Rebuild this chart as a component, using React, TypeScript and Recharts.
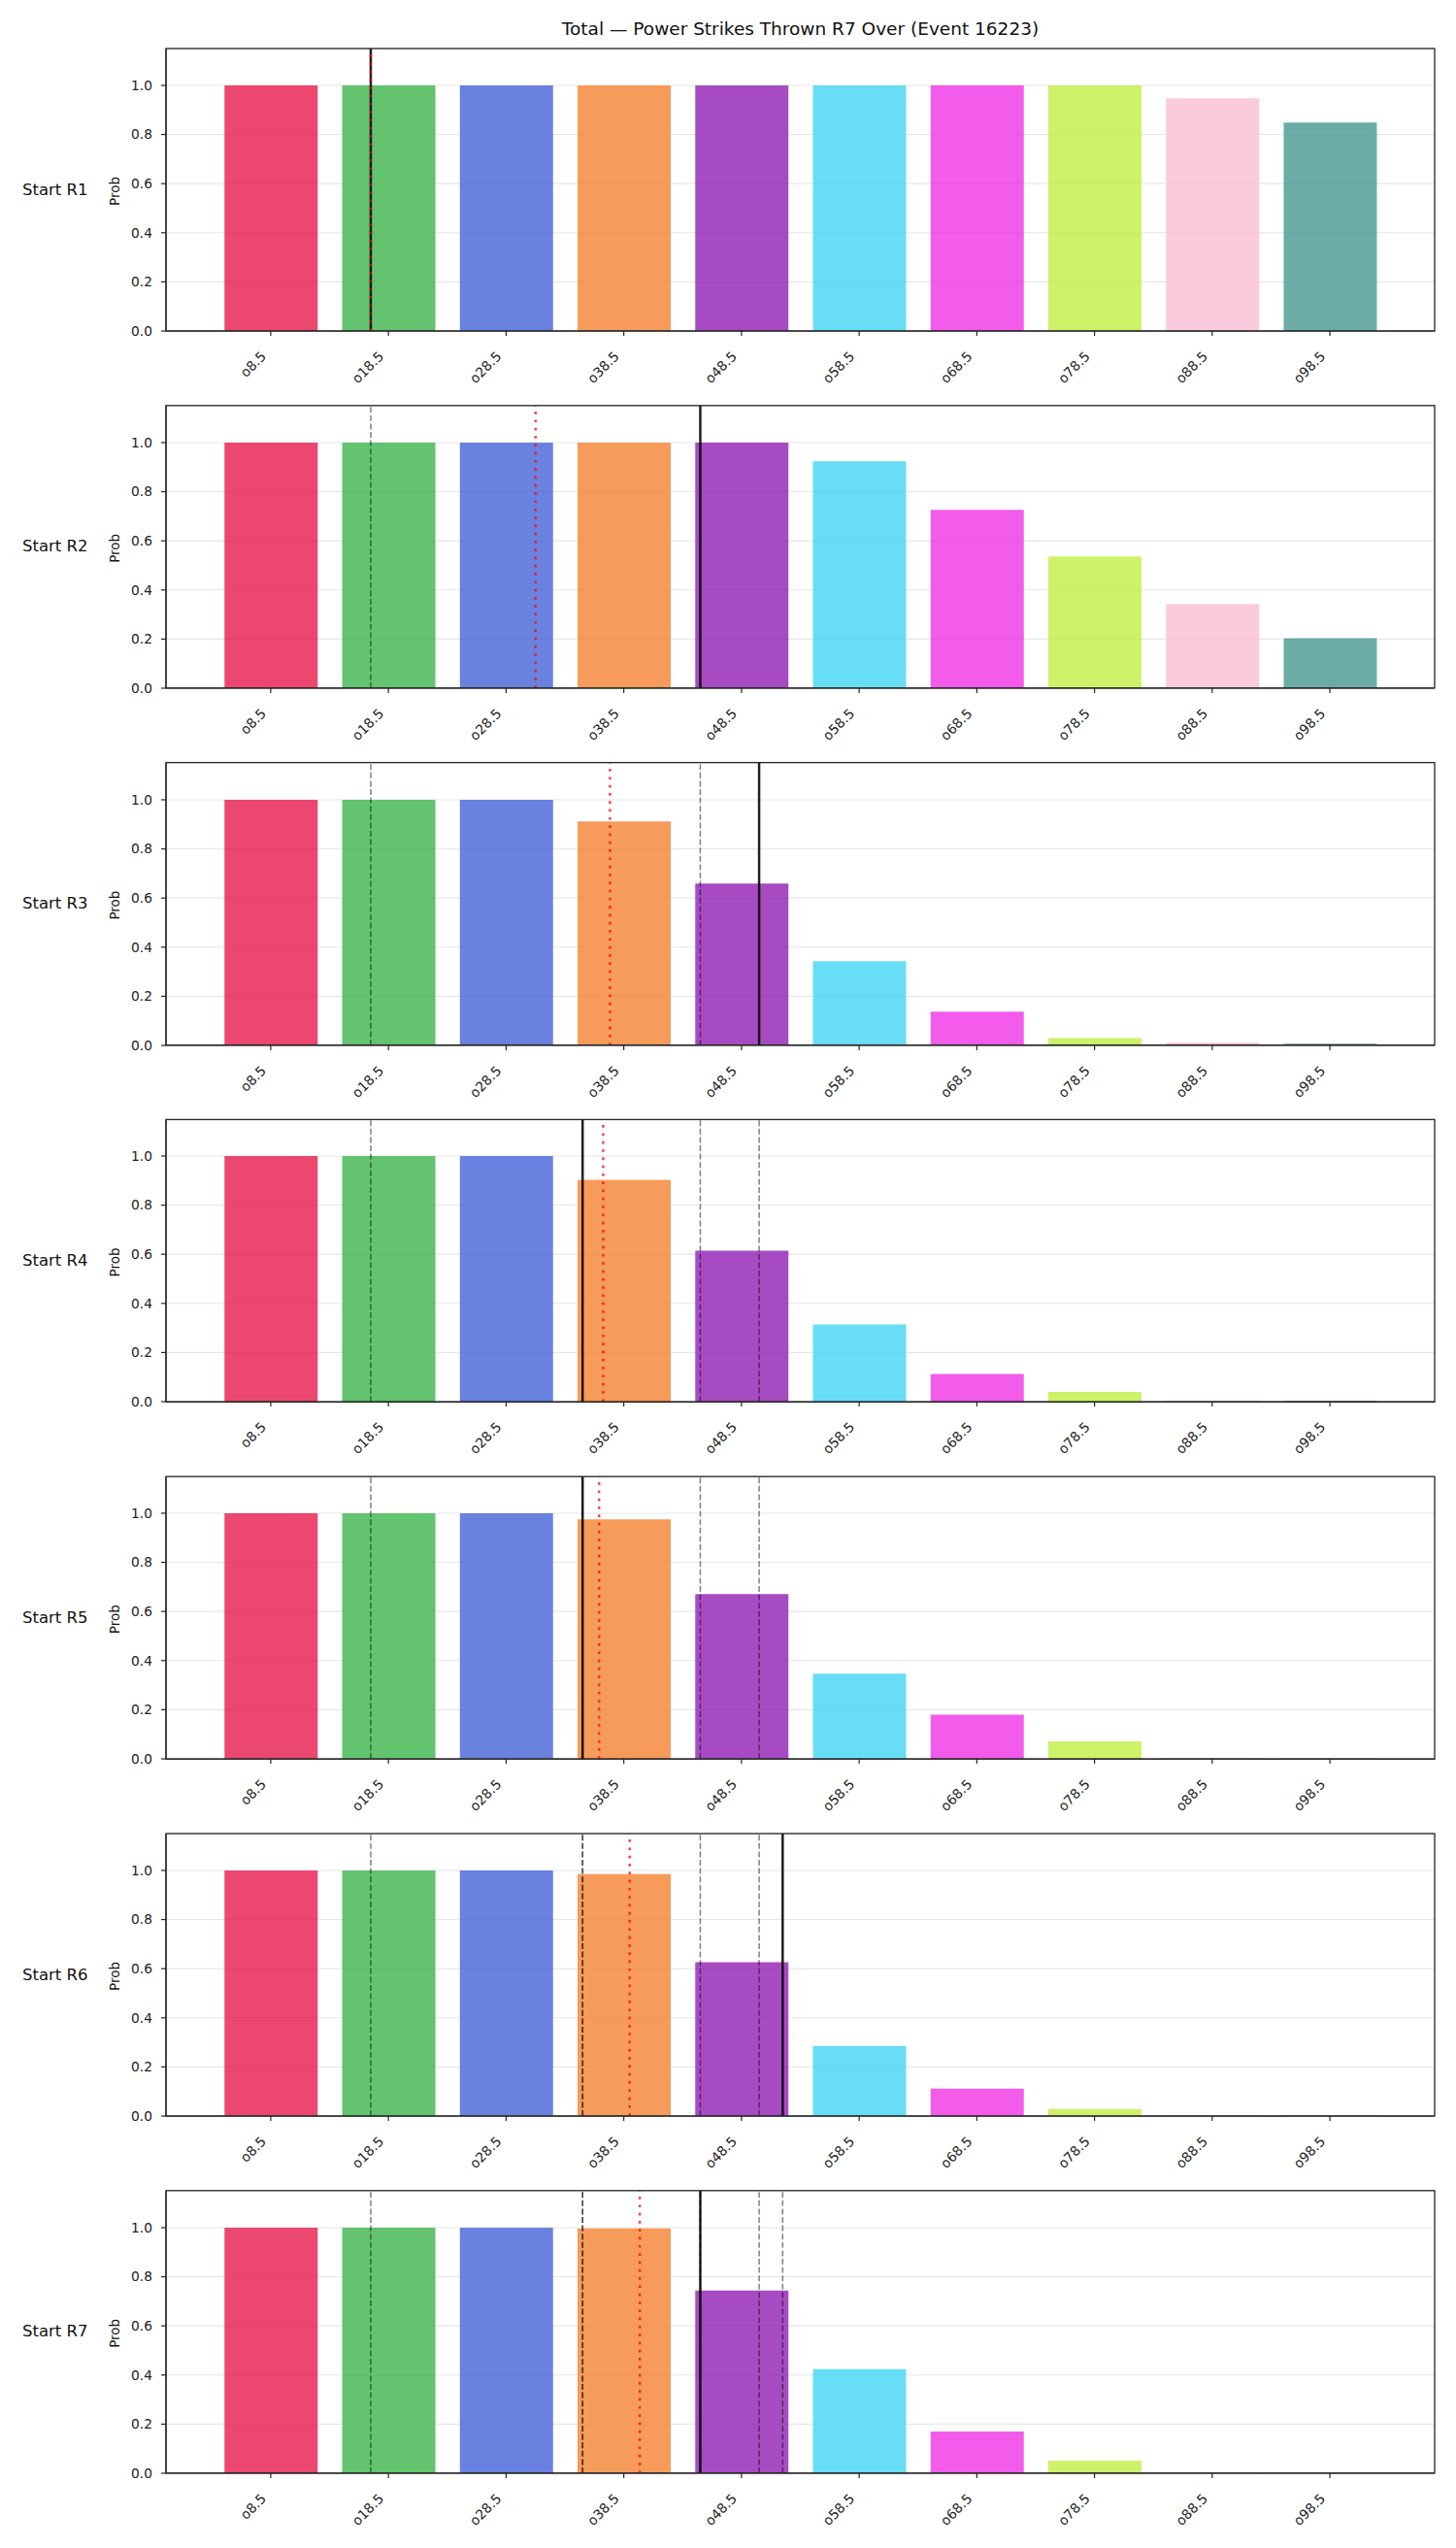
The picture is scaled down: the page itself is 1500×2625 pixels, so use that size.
import React from 'react';
import { BarChart, Bar, Cell, XAxis, YAxis, CartesianGrid, ReferenceLine } from 'recharts';

// Over lines on the x axis and one colour per line
const lines = [8.5, 18.5, 28.5, 38.5, 48.5, 58.5, 68.5, 78.5, 88.5, 98.5];
const barColors = [
  '#e6194b', '#3cb44b', '#4363d8', '#f58231', '#911eb4',
  '#42d4f4', '#f032e6', '#bfef45', '#fabed4', '#469990',
];

// P(over) for each line, given the start round
const probR1 = [1, 1, 1, 1, 1, 1, 1, 1, 0.947, 0.849];
const probR2 = [1, 1, 1, 1, 1, 0.924, 0.726, 0.536, 0.343, 0.204];
const probR3 = [1, 1, 1, 0.912, 0.659, 0.343, 0.137, 0.03, 0.012, 0.007];
const probR4 = [1, 1, 1, 0.903, 0.615, 0.314, 0.113, 0.04, 0.005, 0.004];
const probR5 = [1, 1, 1, 0.975, 0.671, 0.347, 0.18, 0.071, 0.003, 0.001];
const probR6 = [1, 1, 1, 0.985, 0.626, 0.286, 0.112, 0.029, 0.002, 0.001];
const probR7 = [1, 1, 1, 0.997, 0.744, 0.424, 0.17, 0.051, 0.005, 0.001];
const probsByRound = [probR1, probR2, probR3, probR4, probR5, probR6, probR7];

const rounds = ['R1', 'R2', 'R3', 'R4', 'R5', 'R6', 'R7'];
// strikes thrown in each round, and the running average up to it
const thrownByRound = [17, 45, 50, 35, 35, 52, 45];
const avgByRound = [17, 31, 37.33, 36.75, 36.4, 39, 39.86];

const yTicks = [0, 0.2, 0.4, 0.6, 0.8, 1.0];

const TITLE = 'Total \u2014 Power Strikes Thrown R7 Over (Event 16223)';

// layout
const W = 1500;
const H = 2625;
const PLOT_L = 171;
const PLOT_R = 1478;
const PLOT_H = 291;
const TOP0 = 50;
const STEP = 367.8;
const PAD_TOP = 20;
const AXIS_H = 60;
const FONT = '"DejaVu Sans", sans-serif';
const SPINE = '#262626';
const TICK_FONT = 13.8;

function XTick(props: any) {
  const { x, y, payload } = props;
  const ax = x - 4;
  const ay = y + 22;
  return (
    <text
      x={ax}
      y={ay}
      textAnchor="end"
      fontSize={TICK_FONT}
      fill="#222"
      fontFamily={FONT}
      transform={`rotate(-45, ${ax}, ${ay})`}
    >
      {`o${payload.value}`}
    </text>
  );
}

function RoundPanel({ index }: { index: number }) {
  const probs = probsByRound[index];
  const data = lines.map((line, i) => ({ line, prob: probs[i] }));
  const top = TOP0 + STEP * index;
  const prior = thrownByRound.slice(0, index);
  return (
    <div style={{ position: 'absolute', left: 0, top: top - PAD_TOP }}>
      <BarChart
        width={W}
        height={PAD_TOP + PLOT_H + AXIS_H}
        data={data}
        margin={{ top: PAD_TOP, right: W - PLOT_R, bottom: 0, left: 0 }}
      >
        <CartesianGrid vertical={false} stroke="#e6e6e6" strokeWidth={1.1} />
        <XAxis
          dataKey="line"
          type="number"
          domain={[-0.4, 107.4]}
          allowDataOverflow
          ticks={lines}
          interval={0}
          height={AXIS_H}
          tickSize={5}
          tickMargin={0}
          tick={<XTick />}
          axisLine={{ stroke: SPINE, strokeWidth: 1.2 }}
          tickLine={{ stroke: SPINE, strokeWidth: 1.2 }}
        />
        <YAxis
          type="number"
          domain={[0, 1.15]}
          allowDataOverflow
          ticks={yTicks}
          interval={0}
          width={PLOT_L}
          tickSize={5}
          tickMargin={9}
          tickFormatter={(v: number) => v.toFixed(1)}
          tick={{ fontSize: TICK_FONT, fill: '#222', fontFamily: FONT }}
          axisLine={{ stroke: SPINE, strokeWidth: 1.2 }}
          tickLine={{ stroke: SPINE, strokeWidth: 1.2 }}
        />
        <Bar dataKey="prob" barSize={96} isAnimationActive={false}>
          {data.map((d, i) => (
            <Cell key={`cell-${i}`} fill={barColors[i]} fillOpacity={0.8} />
          ))}
        </Bar>
        {prior.map((v, i) => (
          <ReferenceLine
            key={`prior-${i}`}
            x={v}
            stroke="rgba(0,0,0,0.5)"
            strokeWidth={1.5}
            strokeDasharray="6 2.6"
          />
        ))}
        <ReferenceLine x={thrownByRound[index]} stroke="rgba(0,0,0,0.88)" strokeWidth={2.5} />
        <ReferenceLine
          x={avgByRound[index]}
          stroke="rgba(255,0,0,0.75)"
          strokeWidth={2.5}
          strokeDasharray="2.7 5.6"
        />
      </BarChart>
    </div>
  );
}

export default function App() {
  return (
    <div
      style={{
        position: 'absolute',
        left: 0,
        top: 0,
        width: W,
        height: H,
        background: '#fff',
        fontFamily: FONT,
      }}
    >
      {rounds.map((r, i) => (
        <RoundPanel key={r} index={i} />
      ))}
      <svg
        width={W}
        height={H}
        style={{ position: 'absolute', left: 0, top: 0, pointerEvents: 'none' }}
        fontFamily={FONT}
      >
        <text x={(PLOT_L + PLOT_R) / 2} y={36} textAnchor="middle" fontSize={18.5} fill="#111">
          {TITLE}
        </text>
        {rounds.map((r, i) => {
          const top = TOP0 + STEP * i;
          const cy = top + 147;
          return (
            <g key={r}>
              <rect
                x={PLOT_L}
                y={top}
                width={PLOT_R - PLOT_L}
                height={PLOT_H}
                fill="none"
                stroke={SPINE}
                strokeWidth={1.3}
              />
              <text x={23} y={top + 150.6} fontSize={16.5} fill="#111">
                {`Start ${r}`}
              </text>
              <text
                x={0}
                y={0}
                textAnchor="middle"
                fontSize={13.5}
                fill="#111"
                transform={`translate(123.3, ${cy}) rotate(-90)`}
              >
                Prob
              </text>
            </g>
          );
        })}
      </svg>
    </div>
  );
}
